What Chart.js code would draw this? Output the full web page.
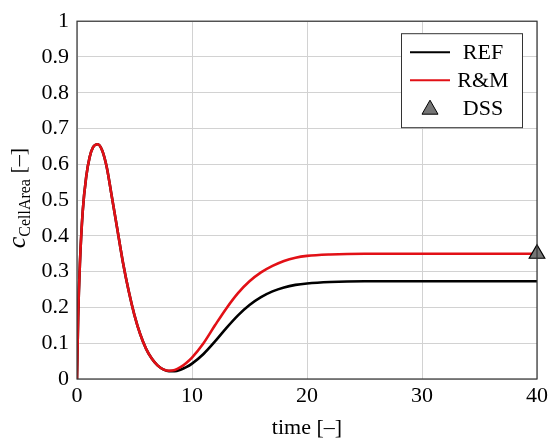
<!DOCTYPE html>
<html>
<head>
<meta charset="utf-8">
<script src="https://cdn.jsdelivr.net/npm/chart.js@4/dist/chart.umd.min.js"></script>
<style>
  html, body { margin: 0; padding: 0; background: #fff; }
</style>
</head>
<body>
<canvas id="cellChart" width="552" height="441"></canvas>
<script>
// values
const time = [0, 0.1, 0.25, 0.5, 0.8, 1.1, 1.4, 1.8, 2.2, 2.6, 3, 3.5, 4, 4.5, 5, 5.5, 6, 6.5, 7, 7.5, 8,
    8.5, 9, 9.5, 10, 11, 12, 13, 14, 15, 16, 17, 18, 19, 20, 22, 25, 30, 35, 40];
const refValues = [0, 0.17, 0.32, 0.47, 0.565, 0.62, 0.648, 0.656, 0.638, 0.59, 0.515, 0.42, 0.325, 0.245, 0.178, 0.125, 0.085, 0.057, 0.038, 0.027, 0.022,
    0.022, 0.026, 0.033, 0.043, 0.07, 0.105, 0.143, 0.178, 0.207, 0.229, 0.245, 0.256, 0.263, 0.267, 0.271, 0.273, 0.273, 0.273, 0.273];
const rmValues = [0, 0.17, 0.32, 0.47, 0.565, 0.62, 0.648, 0.656, 0.638, 0.59, 0.515, 0.42, 0.325, 0.245, 0.178, 0.125, 0.085, 0.057, 0.038, 0.027, 0.023,
    0.025, 0.033, 0.045, 0.06, 0.1, 0.15, 0.198, 0.24, 0.273, 0.298, 0.316, 0.33, 0.339, 0.344, 0.348, 0.35, 0.35, 0.35, 0.35];
const dssTime = [40];
const dssValues = [0.35];
const xTicks = [0, 10, 20, 30, 40];
const yTicks = [0, 0.1, 0.2, 0.3, 0.4, 0.5, 0.6, 0.7, 0.8, 0.9, 1];

const serif = '"Liberation Serif", "Times New Roman", serif';
const red = 'rgb(226, 16, 22)';

function toPoints(xs, ys) {
    return xs.map((x, i) => ({ x: x, y: ys[i] }));
}

// legend drawn as a framed box inside the plot, top right
const boxLegend = {
    id: 'boxLegend',
    afterDraw(chart) {
        const ctx = chart.ctx;
        const area = chart.chartArea;
        const w = 121, h = 94;
        const x0 = area.right - 15 - w;
        const y0 = area.top + 12;
        ctx.save();
        ctx.fillStyle = '#fff';
        ctx.fillRect(x0, y0, w, h);
        ctx.strokeStyle = '#333';
        ctx.lineWidth = 1;
        ctx.strokeRect(x0 + 0.5, y0 + 0.5, w, h);

        ctx.font = '22px ' + serif;
        ctx.textAlign = 'center';
        ctx.textBaseline = 'middle';
        chart.data.datasets.forEach((ds, i) => {
            const cy = y0 + 19 + i * 28;
            if (ds.showLine === false) {
                const cx = x0 + 29, s = 8;
                ctx.beginPath();
                ctx.moveTo(cx, cy - s);
                ctx.lineTo(cx + s, cy + s * 0.75);
                ctx.lineTo(cx - s, cy + s * 0.75);
                ctx.closePath();
                ctx.fillStyle = ds.backgroundColor;
                ctx.fill();
                ctx.strokeStyle = ds.borderColor;
                ctx.lineWidth = 1;
                ctx.stroke();
            } else {
                ctx.beginPath();
                ctx.moveTo(x0 + 9, cy);
                ctx.lineTo(x0 + 49, cy);
                ctx.strokeStyle = ds.borderColor;
                ctx.lineWidth = 2;
                ctx.stroke();
            }
            ctx.fillStyle = '#000';
            ctx.fillText(ds.label, x0 + 82, cy + 1);
        });
        ctx.restore();
    }
};

// full frame round the plot and the y title with its subscript
const frameAndTitle = {
    id: 'frameAndTitle',
    afterDatasetsDraw(chart) {
        const ctx = chart.ctx;
        const a = chart.chartArea;
        ctx.save();
        ctx.strokeStyle = '#333';
        ctx.lineWidth = 1.2;
        ctx.strokeRect(a.left, a.top, a.right - a.left, a.bottom - a.top);
        ctx.restore();
    },
    afterDraw(chart) {
        const ctx = chart.ctx;
        const a = chart.chartArea;
        const parts = [
            { text: 'c', font: 'italic 26px ' + serif, dy: 0 },
            { text: 'CellArea', font: '16px ' + serif, dy: 5 },
            { text: ' [–]', font: '22px ' + serif, dy: 0 }
        ];
        ctx.save();
        ctx.translate(25, (a.top + a.bottom) / 2 - 2);
        ctx.rotate(-Math.PI / 2);
        ctx.fillStyle = '#000';
        ctx.textBaseline = 'alphabetic';
        let total = 0;
        parts.forEach(p => { ctx.font = p.font; p.w = ctx.measureText(p.text).width; total += p.w; });
        let x = -total / 2;
        parts.forEach(p => {
            ctx.font = p.font;
            ctx.fillText(p.text, x, p.dy);
            x += p.w;
        });
        ctx.restore();
    }
};

const ctx = document.getElementById('cellChart').getContext('2d');
const cellChart = new Chart(ctx, {
    type: 'line',
    data: {
        datasets: [{
            label: 'REF',
            data: toPoints(time, refValues),
            borderColor: '#000',
            borderWidth: 2.6,
            pointRadius: 0,
            cubicInterpolationMode: 'monotone',
            order: 2
        }, {
            label: 'R&M',
            data: toPoints(time, rmValues),
            borderColor: red,
            borderWidth: 2.6,
            pointRadius: 0,
            cubicInterpolationMode: 'monotone',
            order: 1
        }, {
            label: 'DSS',
            data: toPoints(dssTime, dssValues),
            showLine: false,
            pointStyle: 'triangle',
            pointRadius: 9,
            backgroundColor: '#767676',
            borderColor: '#000',
            pointBorderWidth: 1.2,
            clip: false,
            order: 0
        }]
    },
    options: {
        responsive: false,
        animation: false,
        layout: { padding: { top: 12, right: 13, left: 0, bottom: 0 } },
        plugins: {
            legend: { display: false },
            tooltip: { enabled: false }
        },
        scales: {
            x: {
                type: 'linear',
                min: 0,
                max: 40,
                afterBuildTicks: scale => { scale.ticks = xTicks.map(v => ({ value: v })); },
                afterFit: scale => { scale.height = 62; },
                grid: { color: '#d2d2d2', drawTicks: false },
                border: { display: false },
                ticks: { color: '#000', padding: 4, maxRotation: 0, font: { family: serif, size: 22 } },
                title: {
                    display: true,
                    text: 'time [–]',
                    color: '#000',
                    padding: { top: 0, bottom: 0 },
                    font: { family: serif, size: 22 }
                }
            },
            y: {
                min: 0,
                max: 1,
                afterBuildTicks: scale => { scale.ticks = yTicks.map(v => ({ value: v })); },
                afterFit: scale => { scale.width = 77; },
                grid: { color: '#d2d2d2', drawTicks: false },
                border: { display: false },
                ticks: {
                    color: '#000',
                    padding: 8,
                    font: { family: serif, size: 22 },
                    callback: value => String(Number(value.toFixed(1)))
                }
            }
        }
    },
    plugins: [frameAndTitle, boxLegend]
});
</script>
</body>
</html>
